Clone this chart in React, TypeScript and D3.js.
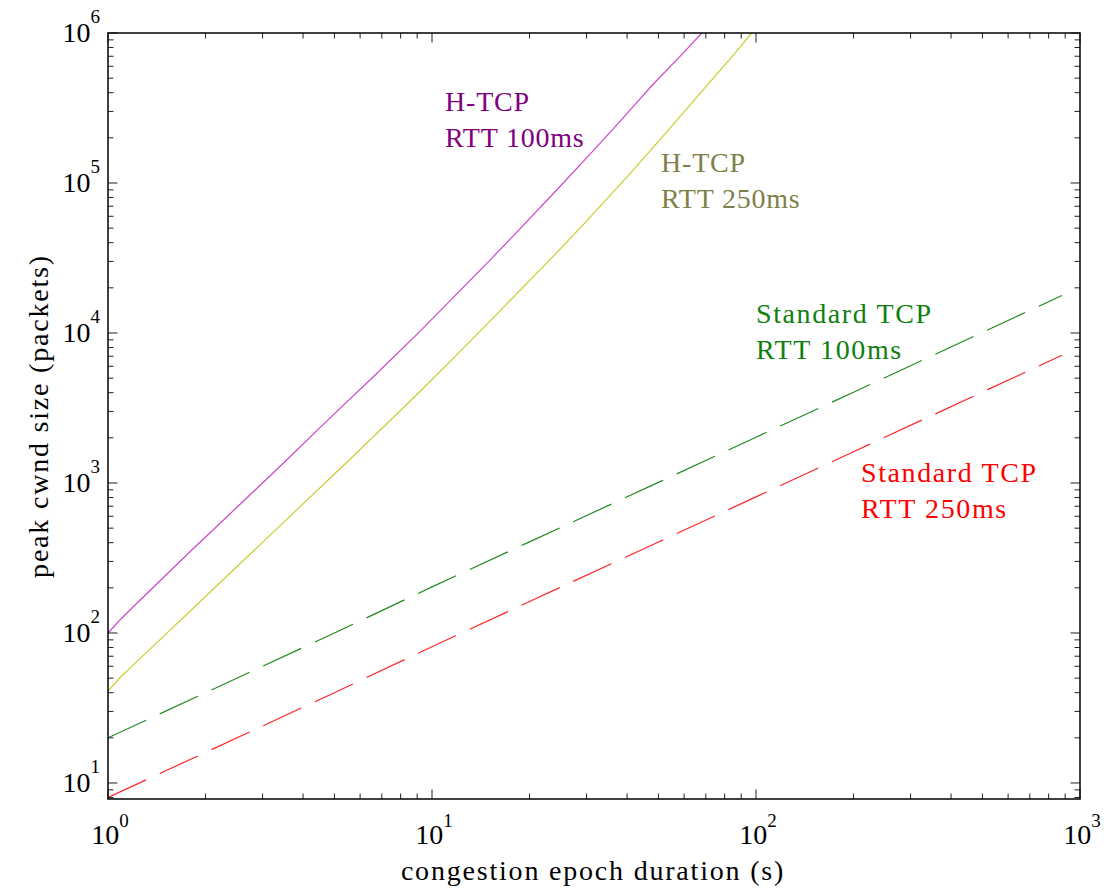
import React from "react";
import * as d3 from "d3";

// Epoch duration (s) and peak congestion window (packets) for each protocol / RTT.
const htcp100Duration = [1, 1.1, 1.21, 1.59, 1.79, 2.09, 2.59, 3.36, 3.78, 4.46, 5.26, 6.52, 9.18, 15.1, 17.4, 24.3, 30.7, 35.9, 42.3, 48.2, 59.6, 68];
const htcp100Cwnd = [100, 125, 153, 271, 348, 477, 741, 1263, 1614, 2285, 3216, 4993, 10240, 30620, 42110, 90200, 155100, 224500, 332800, 456900, 735000, 1000000];

const htcp250Duration = [1, 1.09, 1.2, 1.59, 1.79, 2.22, 2.91, 3.69, 4.15, 5.02, 5.52, 7.69, 9.18, 11.63, 14.4, 22.05, 28.97, 40.4, 52.4, 70.5, 84.1, 97];
const htcp250Cwnd = [41, 50.5, 61.5, 109.5, 139.6, 217, 378, 615, 783, 1156, 1408, 2807, 4072, 6771, 10830, 27670, 51390, 112300, 212400, 446000, 690800, 1000000];

const std100Duration = [1, 2, 5, 10, 20, 50, 100, 200, 500, 880];
const std100Cwnd = [20, 40, 100, 203, 405, 1010, 2020, 4030, 10100, 17800];

const std250Duration = [1, 2, 5, 10, 20, 50, 100, 200, 500, 880];
const std250Cwnd = [8, 16, 40, 81, 162, 404, 808, 1615, 4040, 7100];

const xMajorExponents = [0, 1, 2, 3];
const yMajorExponents = [1, 2, 3, 4, 5, 6];

const seriesList = [
  { name: "htcp100", x: htcp100Duration, y: htcp100Cwnd, stroke: "#cc44cc", dash: null },
  { name: "htcp250", x: htcp250Duration, y: htcp250Cwnd, stroke: "#cccc2e", dash: null },
  { name: "std100", x: std100Duration, y: std100Cwnd, stroke: "#1e8a1e", dash: "42 15" },
  { name: "std250", x: std250Duration, y: std250Cwnd, stroke: "#ff2424", dash: "42 15" },
];

const annotations = [
  { lines: ["H-TCP", "RTT 100ms"], x: 445, y: 111, color: "#800080", spacing: 0.8 },
  { lines: ["H-TCP", "RTT 250ms"], x: 661, y: 172, color: "#7f7f48", spacing: 0.8 },
  { lines: ["Standard TCP", "RTT 100ms"], x: 756, y: 323, color: "#0f800f", spacing: 1.6 },
  { lines: ["Standard TCP", "RTT 250ms"], x: 861, y: 482, color: "#ff0000", spacing: 1.6 },
];

const WIDTH = 1104;
const HEIGHT = 890;
const plot = { left: 108, right: 1080, top: 33, bottom: 799 };
const FONT = "'Liberation Serif', 'Times New Roman', serif";
const Y_MIN = 7.82;

export default function App() {
  const x = d3.scaleLog().domain([1, 1000]).range([plot.left, plot.right]);
  const y = d3.scaleLog().domain([Y_MIN, 1e6]).range([plot.bottom, plot.top]);

  const line = d3
    .line<[number, number]>()
    .x((d) => x(d[0]))
    .y((d) => y(d[1]));

  const xMinor: number[] = [];
  for (let e = 0; e < 3; e++) for (let m = 2; m <= 9; m++) xMinor.push(m * Math.pow(10, e));
  const yMinor: number[] = [];
  for (let e = 0; e < 6; e++)
    for (let m = 2; m <= 9; m++) {
      const v = m * Math.pow(10, e);
      if (v >= Y_MIN && v < 1e6) yMinor.push(v);
    }

  const MAJ = 9.5;
  const MIN = 5.5;
  const tickStroke = "#222";

  return (
    <svg
      width={WIDTH}
      height={HEIGHT}
      style={{ position: "absolute", left: 0, top: 0, background: "#fff" }}
      fontFamily={FONT}
    >
      <defs>
        <clipPath id="plot-clip">
          <rect x={plot.left} y={plot.top} width={plot.right - plot.left} height={plot.bottom - plot.top} />
        </clipPath>
      </defs>
      <rect x={0} y={0} width={WIDTH} height={HEIGHT} fill="#fff" />

      {/* data lines */}
      <g clipPath="url(#plot-clip)" fill="none">
        {seriesList.map((s) => (
          <path
            key={s.name}
            d={line(s.x.map((v, i) => [v, s.y[i]] as [number, number])) || ""}
            stroke={s.stroke}
            strokeWidth={1.2}
            strokeDasharray={s.dash || undefined}
          />
        ))}
      </g>

      {/* ticks on all four sides, pointing inward */}
      <g stroke={tickStroke} strokeWidth={1}>
        {xMajorExponents.map((e) => {
          const px = x(Math.pow(10, e));
          return (
            <g key={"xM" + e}>
              <line x1={px} x2={px} y1={plot.bottom} y2={plot.bottom - MAJ} />
              <line x1={px} x2={px} y1={plot.top} y2={plot.top + MAJ} />
            </g>
          );
        })}
        {xMinor.map((v) => {
          const px = x(v);
          return (
            <g key={"xm" + v}>
              <line x1={px} x2={px} y1={plot.bottom} y2={plot.bottom - MIN} />
              <line x1={px} x2={px} y1={plot.top} y2={plot.top + MIN} />
            </g>
          );
        })}
        {yMajorExponents.map((e) => {
          const py = y(Math.pow(10, e));
          return (
            <g key={"yM" + e}>
              <line x1={plot.left} x2={plot.left + MAJ} y1={py} y2={py} />
              <line x1={plot.right} x2={plot.right - MAJ} y1={py} y2={py} />
            </g>
          );
        })}
        {yMinor.map((v) => {
          const py = y(v);
          return (
            <g key={"ym" + v}>
              <line x1={plot.left} x2={plot.left + MIN} y1={py} y2={py} />
              <line x1={plot.right} x2={plot.right - MIN} y1={py} y2={py} />
            </g>
          );
        })}
      </g>

      {/* frame */}
      <rect
        x={plot.left}
        y={plot.top}
        width={plot.right - plot.left}
        height={plot.bottom - plot.top}
        fill="none"
        stroke="#111"
        strokeWidth={1.6}
      />

      {/* x tick labels */}
      {xMajorExponents.map((e) => (
        <text key={"xl" + e} x={x(Math.pow(10, e)) + 2} y={844} textAnchor="middle" fontSize={28} fill="#000">
          <tspan>10</tspan>
          <tspan dy={-17} fontSize={19}>
            {e}
          </tspan>
        </text>
      ))}

      {/* y tick labels */}
      {yMajorExponents.map((e) => (
        <text key={"yl" + e} x={100} y={y(Math.pow(10, e)) + 9} textAnchor="end" fontSize={28} fill="#000">
          <tspan>10</tspan>
          <tspan dy={-19} fontSize={19}>
            {e}
          </tspan>
        </text>
      ))}

      {/* axis titles */}
      <text x={593} y={880} textAnchor="middle" fontSize={28} letterSpacing={1.8} fill="#000">
        congestion epoch duration (s)
      </text>
      <text
        transform={`translate(48, ${(plot.top + plot.bottom) / 2}) rotate(-90)`}
        textAnchor="middle"
        fontSize={28}
        letterSpacing={1.8}
        fill="#000"
      >
        peak cwnd size (packets)
      </text>

      {/* curve annotations */}
      {annotations.map((a, i) => (
        <text key={"an" + i} fontSize={28} fill={a.color} letterSpacing={a.spacing}>
          {a.lines.map((t, j) => (
            <tspan key={j} x={a.x} y={a.y + j * 35.5}>
              {t}
            </tspan>
          ))}
        </text>
      ))}
    </svg>
  );
}
